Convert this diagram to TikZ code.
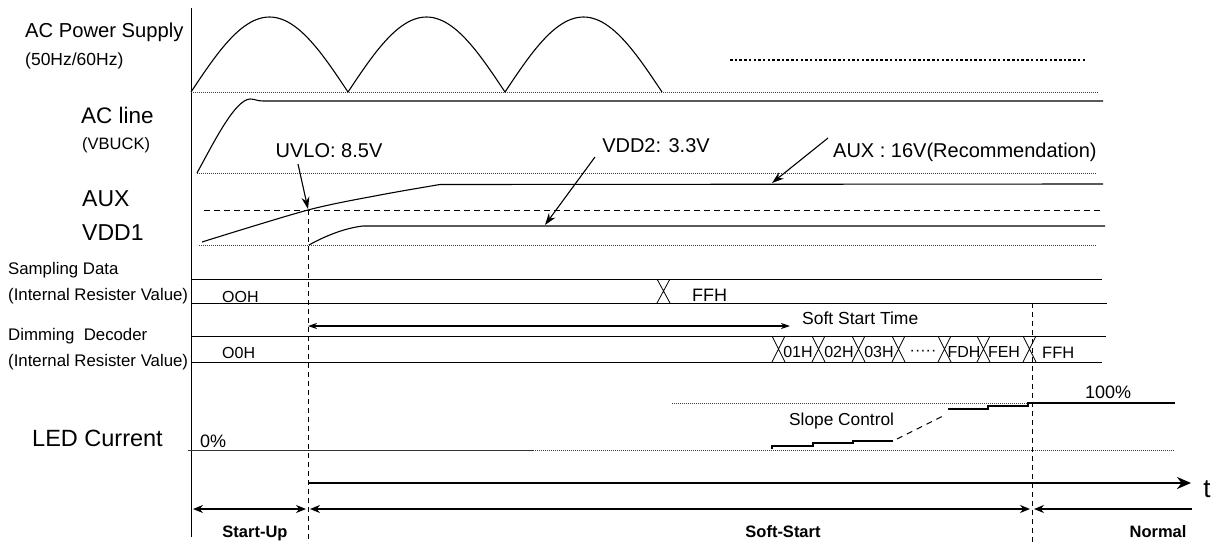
\documentclass[tikz,border=0pt]{standalone}
\usepackage{fontspec}
\setmainfont{Liberation Sans}
\usetikzlibrary{arrows.meta}

\begin{document}
\begin{tikzpicture}[
    x=1pt, y=-1pt,
    font=\fontsize{17}{20}\selectfont,
    sz/.style={font=\fontsize{#1}{#1}\selectfont},
    lbl/.style={inner sep=0pt, anchor=base west},
    ctr/.style={inner sep=0pt, anchor=base},
    phs/.style={ctr, font=\bfseries\fontsize{16.5}{16.5}\selectfont},
    wave/.style={line width=1.1pt},
    zeroline/.style={line width=0.8pt, dash pattern=on 1pt off 1pt, black!75},
    thresh/.style={line width=0.9pt, dash pattern=on 6pt off 4pt},
    tmark/.style={line width=0.9pt, dash pattern=on 5pt off 4pt},
    pointer/.style={-{Stealth[length=12pt,width=8pt]}, line width=1.1pt},
    phasespan/.style={{Stealth[length=10pt,width=8pt]}-{Stealth[length=10pt,width=8pt]},
                      line width=1.3pt},
    xcross/.style={line width=0.8pt},
  ]
  \useasboundingbox (0,0) rectangle (1221,544);

  % --- Signal names -------------------------------------------------------
  \node[lbl, sz=20.2] (ac-supply) at (25,37) {AC Power Supply};
  \node[lbl, sz=17.5] (ac-freq) at (25,65) {(50Hz/60Hz)};
  \node[lbl, sz=22.5] (ac-line) at (81,123) {AC line};
  \node[lbl, sz=16.5] (vbuck) at (82,149) {(VBUCK)};
  \node[lbl, sz=23] (aux) at (82,206) {AUX};
  \node[lbl, sz=23] (vdd1) at (82,240) {VDD1};
  \node[lbl, sz=16.8] (samp) at (8,274) {Sampling Data};
  \node[lbl, sz=16.8] (samp-reg) at (8,300) {(Internal Resister Value)};
  \node[lbl, sz=16.8] (dim) at (8,340) {Dimming\ \ Decoder};
  \node[lbl, sz=16.8] (dim-reg) at (8,366) {(Internal Resister Value)};
  \node[lbl, sz=23.5] (led) at (32,446) {LED Current};

  \draw[line width=1pt] (191,8) -- (191,537);

  % --- AC power supply ----------------------------------------------------
  \draw[zeroline] (191,92) -- (1098,92);
  \draw[wave, domain=0:471, samples=151, variable=\s]
    plot ({191+\s}, {92-75*abs(sin(\s/157*180))});
  \draw[line width=2pt, dash pattern=on 2.5pt off 2.2pt] (730,60) -- (1087,60);

  % --- AC line (VBUCK) ----------------------------------------------------
  \draw[zeroline] (197,173) -- (1097,173);
  \draw[wave] (197,173) .. controls (215,140) and (235,100) .. (250,99)
    .. controls (255,99) and (257,101) .. (263,101) -- (1103,101);

  % --- AUX / VDD1 ---------------------------------------------------------
  \draw[zeroline] (199,245) -- (1097,245);
  \draw[thresh] (204,210) -- (1102,210);
  \draw[wave] plot[smooth] coordinates {(202,242) (308,210) (380,195) (440,184.5)}
    -- (1103,184);
  \draw[wave] (309,245) .. controls (325,236) and (345,228) .. (363,226) -- (1105,226);

  \node[ctr, sz=20] (uvlo) at (329,157) {UVLO: 8.5V};
  \node[ctr, sz=20] (vdd2) at (656,152) {VDD2: 3.3V};
  \node[lbl, sz=20] (aux16) at (833,157) {AUX : 16V(Recommendation)};
  \coordinate (uvlo-tail) at (298,164);
  \coordinate (uvlo-hit) at (308,209);
  \coordinate (vdd2-tail) at (595,157);
  \coordinate (vdd2-hit) at (545,225);
  \coordinate (aux16-tail) at (828,138);
  \coordinate (aux16-hit) at (772,183);
  \draw[pointer] (uvlo-tail) -- (uvlo-hit);
  \draw[pointer] (vdd2-tail) -- (vdd2-hit);
  \draw[pointer] (aux16-tail) -- (aux16-hit);

  % --- Sampling data ------------------------------------------------------
  \draw[line width=1pt] (191,279) -- (1102,279);
  \draw[line width=1pt] (191,303) -- (1107,303);
  \draw[xcross] (657,279) -- (670,303) (670,279) -- (657,303);
  \node[lbl, sz=16] (samp-00) at (222,302) {OOH};
  \node[lbl, sz=18] (samp-ff) at (692,301) {FFH};

  % --- Soft start time ----------------------------------------------------
  \coordinate (ss-begin) at (308,326);
  \coordinate (ss-end) at (790,326);
  \draw[{Stealth[length=9pt,width=6pt]}-{Stealth[length=9pt,width=6pt]}, line width=1.1pt]
    (ss-begin) -- (ss-end);
  \node[lbl, sz=17.5] (ss-time) at (802,324) {Soft Start Time};

  % --- Dimming decoder ----------------------------------------------------
  \draw[line width=1pt] (191,336) -- (1106,336);
  \draw[line width=1pt] (191,362) -- (1102,362);
  \foreach \xa in {772,812,852,892,938,977,1023}
    \draw[xcross] (\xa,336) -- (\xa+13,362) (\xa+13,336) -- (\xa,362);
  \node[lbl, sz=16] (dim-00) at (222,358) {O0H};
  \foreach \cx/\code in {798/01H, 839/02H, 879/03H, 964/FDH, 1004/FEH}
    \node[ctr, sz=16] (dim-\code) at (\cx,357) {\code};
  \node[ctr, sz=16] (dim-dots) at (923,355) {·····};
  \node[lbl, sz=16.5] (dim-ff) at (1042,358) {FFH};

  % --- LED current --------------------------------------------------------
  \draw[line width=1pt, black!80] (188,450) -- (533,450);
  \draw[zeroline] (533,450) -- (1175,450);
  \draw[zeroline] (672,403) -- (1028,403);
  \draw[wave] (772,449) -- (772,446) -- (813,446) -- (813,443) -- (853,443)
    -- (853,441) -- (893,441);
  \draw[line width=1pt, dash pattern=on 6pt off 5pt] (897,439) -- (945,415);
  \draw[wave] (948,409) -- (988,409) -- (988,406) -- (1028,406) -- (1028,403)
    -- (1175,403);
  \node[lbl, sz=18] (led-0) at (200,447) {0\%};
  \node[lbl, sz=17.3] (slope) at (789,425) {Slope Control};
  \node[lbl, sz=18] (led-100) at (1085,398) {100\%};

  % --- Phase markers ------------------------------------------------------
  \draw[tmark] (308,210) -- (308,543);
  \draw[tmark] (1032,303) -- (1032,543);

  \coordinate (t0) at (308,483);
  \coordinate (t-end) at (1191,483);
  \draw[-{Stealth[length=14pt,width=12pt]}, line width=2.4pt] (t0) -- (t-end);
  \node[ctr, sz=26] (t-lbl) at (1207,497) {t};

  \coordinate (p-start) at (193,509);
  \coordinate (p-uvlo-l) at (306,509);
  \coordinate (p-uvlo-r) at (310,509);
  \coordinate (p-norm-l) at (1030,509);
  \coordinate (p-norm-r) at (1034,509);
  \coordinate (p-end) at (1192,509);
  \draw[phasespan] (p-start) -- (p-uvlo-l);
  \draw[phasespan] (p-uvlo-r) -- (p-norm-l);
  \draw[{Stealth[length=10pt,width=8pt]}-, line width=1.3pt] (p-norm-r) -- (p-end);
  \node[phs] (startup) at (255,537) {Start-Up};
  \node[phs] (softstart) at (783,537) {Soft-Start};
  \node[phs] (normal) at (1158,537) {Normal};

\end{tikzpicture}
\end{document}
